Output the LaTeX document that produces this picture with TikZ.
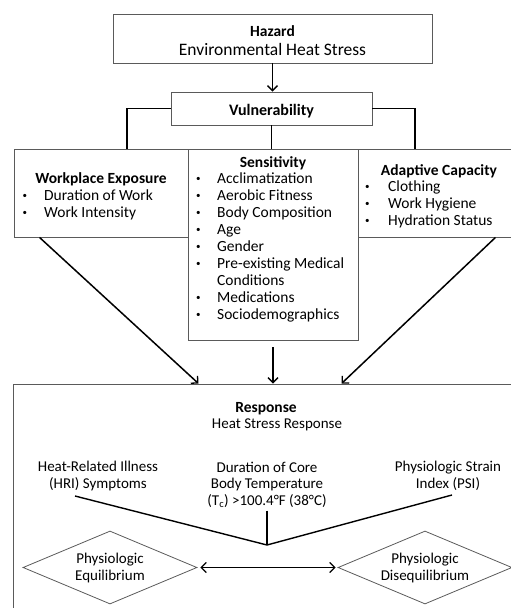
\documentclass[tikz,border=0pt]{standalone}
\usepackage{fontspec}
\setmainfont{Carlito}
\usetikzlibrary{arrows.meta,shapes.geometric}
\definecolor{boxgray}{HTML}{5A5A5A}
\newcommand{\smbul}{\raisebox{1.2pt}{\fontsize{9}{9}\selectfont\textbullet}}
\begin{document}
\begin{tikzpicture}[x=1pt,y=-1pt,
  box/.style={draw=boxgray,line width=0.9pt,rectangle,inner sep=0pt},
  diam/.style={draw=boxgray,line width=0.8pt,diamond,aspect=2.4,minimum width=174pt,minimum height=73pt,inner sep=0pt,align=center,font=\fontsize{15}{17}\selectfont},
  conn/.style={line width=1.9pt,black},
  thin/.style={line width=1.4pt,black},
  arr/.style={line width=1.5pt,black,-{Straight Barb[length=5pt,width=10pt,line width=1.3pt]}},
  darr/.style={line width=1.6pt,black,{Straight Barb[length=5pt,width=10pt,line width=1.3pt]}-{Straight Barb[length=5pt,width=10pt,line width=1.3pt]}},
  ttl/.style={font=\fontsize{15.5}{17}\selectfont\bfseries,anchor=base,inner sep=0pt},
  lst/.style={font=\fontsize{15.5}{17}\selectfont,anchor=base west,inner sep=0pt},
  txt/.style={font=\fontsize{15}{16.5}\selectfont,align=center,inner sep=0pt}]
\clip (0,0) rectangle (511,608);
% boxes
\node[box,minimum width=319pt,minimum height=49pt] (haz) at (272.5,38.5) {};
\node[box,minimum width=201pt,minimum height=33pt] (vul) at (271.5,108.5) {};
\node[box,minimum width=174pt,minimum height=88pt] (wp) at (101,193) {};
\node[box,minimum width=170pt,minimum height=191pt] (sens) at (273,244.5) {};
\node[box,minimum width=156pt,minimum height=88pt] (adap) at (436,193) {};
\node[box,minimum width=501pt,minimum height=228pt] (resp) at (263.5,498) {};
% hazard text
\node[ttl] (hazt) at (272.5,36.5) {Hazard};
\node[font=\fontsize{17.5}{20}\selectfont,anchor=base,inner sep=0pt] (hazs) at (272.5,55) {Environmental Heat Stress};
\node[ttl,font=\fontsize{16}{17}\selectfont\bfseries] (vult) at (271.5,115.5) {Vulnerability};
% workplace
\node[ttl] (wpt) at (101,183) {Workplace Exposure};
\node[lst] (wpl) at (22.5,200) {\begin{tabular}[t]{@{}p{21.5pt}@{}l@{}}\smbul & Duration of Work\\ \smbul & Work Intensity\end{tabular}};
% sensitivity
\node[ttl] (senst) at (273,167) {Sensitivity};
\node[lst] (sensl) at (196,183) {\begin{tabular}[t]{@{}p{21pt}@{}l@{}}\smbul & Acclimatization\\ \smbul & Aerobic Fitness\\ \smbul & Body Composition\\ \smbul & Age\\ \smbul & Gender\\ \smbul & Pre-existing Medical\\ & Conditions\\ \smbul & Medications\\ \smbul & Sociodemographics\end{tabular}};
% adaptive
\node[ttl] (adapt) at (439,175) {Adaptive Capacity};
\node[lst] (adapl) at (365,191) {\begin{tabular}[t]{@{}p{23pt}@{}l@{}}\smbul & Clothing\\ \smbul & Work Hygiene\\ \smbul & Hydration Status\end{tabular}};
% response
\node[ttl] (respt) at (266,412) {Response};
\node[font=\fontsize{15}{17}\selectfont,anchor=base,inner sep=0pt] (resps) at (277,428.5) {Heat Stress Response};
\node[txt] (hri) at (98,476) {Heat-Related Illness\\(HRI) Symptoms};
\node[txt] (core) at (267,484.5) {Duration of Core\\Body Temperature\\(T\textsubscript{c}) >100.4°F (38°C)};
\node[txt] (psi) at (448,476) {Physiologic Strain\\Index (PSI)};
\node[diam] (eq) at (110,567.5) {Physiologic\\Equilibrium};
\node[diam] (dis) at (425,567.5) {Physiologic\\Disequilibrium};
% connectors
\draw[arr] (haz.south) -- (haz.south |- vul.north);
\draw[conn] (vul.west) -| ([xshift=26pt]wp.north);
\draw[conn] (vul.east) -| ([xshift=-21pt]adap.north);
\draw[conn] (vul.south) -- (vul.south |- sens.north);
\draw[arr] ([xshift=26pt]wp.south west) -- ([xshift=-65pt]resp.north);
\draw[arr] ([yshift=-7pt]sens.south) -- (sens.south |- resp.north);
\draw[arr] ([xshift=-19pt]adap.south east) -- ([xshift=78pt]resp.north);
\coordinate (meet) at (267,545);
\coordinate (hrilead) at (75,496);
\coordinate (psilead) at (452,495);
\draw[thin] (hrilead) -- (meet) -- (psilead);
\draw[thin] ([yshift=-3pt]core.south) -- (core.south |- meet);
\draw[darr] ([xshift=3pt]eq.east) -- ([xshift=-2pt]dis.west);
\end{tikzpicture}
\end{document}
